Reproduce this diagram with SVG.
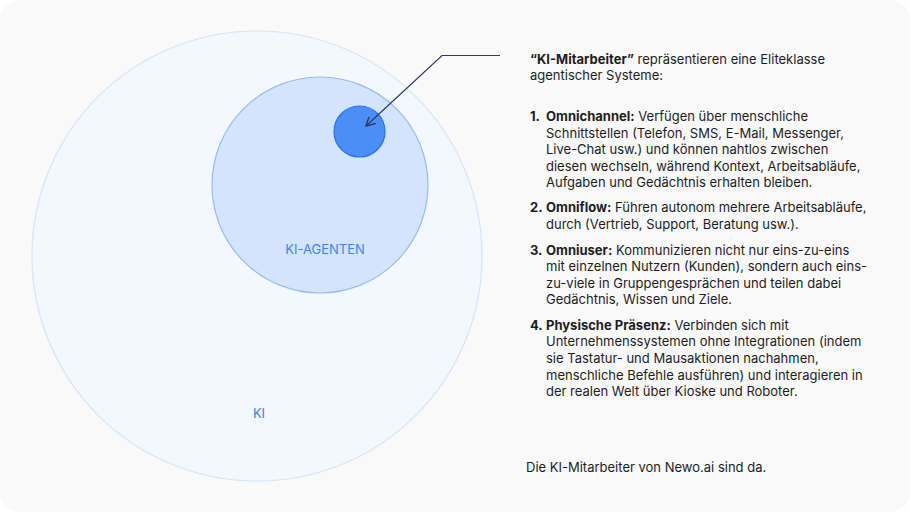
<svg xmlns="http://www.w3.org/2000/svg" width="910" height="512" viewBox="0 0 910 512">
  <defs>
    <style>
      .t { font-family: Inter, "Noto Sans", "Liberation Sans", sans-serif; font-size: 13px; fill: #1d1d1f; }
      .b { font-weight: 700; }
      .lbl { font-family: Inter, "Noto Sans", "Liberation Sans", sans-serif; font-size: 13px; fill: #3d84f0; }
    </style>
    <marker id="arrow" viewBox="0 0 10 10" refX="9" refY="5" markerWidth="10" markerHeight="10" markerUnits="userSpaceOnUse" orient="auto">
      <path d="M0,0 L9,5 L0,10" fill="none" stroke="#2b3a5e" stroke-width="1.4"/>
    </marker>
  </defs>

  <rect x="0" y="0" width="910" height="512" fill="#ffffff"/>
  <rect x="0" y="0" width="910" height="512" rx="20" ry="20" fill="#f9f9f9"/>

  <g id="ki">
    <circle cx="257" cy="256" r="225" fill="#f3f7fe" stroke="#d5e4fb" stroke-width="1.2"/>
    <text class="lbl" x="259" y="418" text-anchor="middle">KI</text>
  </g>

  <g id="ki-agenten">
    <circle cx="320" cy="185" r="108" fill="#d4e4fc" stroke="#94bdf7" stroke-width="1.2"/>
    <text class="lbl" x="325" y="254" text-anchor="middle">KI-AGENTEN</text>
  </g>

  <g id="ki-mitarbeiter">
    <circle cx="359.5" cy="131.5" r="25.5" fill="#4a8ff8" stroke="#2870ee" stroke-width="1.2"/>
  </g>

  <g id="connectors">
    <polyline points="500,55.5 442,55.5 366,126" fill="none" stroke="#2b3a5e" stroke-width="1.2" marker-end="url(#arrow)"/>
  </g>

  <g id="description">
    <text class="t" x="530" y="64"><tspan class="b">“KI-Mitarbeiter”</tspan> repräsentieren eine Eliteklasse</text>
    <text class="t" x="530" y="80">agentischer Systeme:</text>

    <text class="t b" x="530" y="121">1.</text>
    <text class="t" x="546" y="121"><tspan class="b">Omnichannel:</tspan> Verfügen über menschliche</text>
    <text class="t" x="546" y="138">Schnittstellen (Telefon, SMS, E-Mail, Messenger,</text>
    <text class="t" x="546" y="154">Live-Chat usw.) und können nahtlos zwischen</text>
    <text class="t" x="546" y="171">diesen wechseln, während Kontext, Arbeitsabläufe,</text>
    <text class="t" x="546" y="187">Aufgaben und Gedächtnis erhalten bleiben.</text>

    <text class="t b" x="530" y="212">2.</text>
    <text class="t" x="546" y="212"><tspan class="b">Omniflow:</tspan> Führen autonom mehrere Arbeitsabläufe,</text>
    <text class="t" x="546" y="229">durch (Vertrieb, Support, Beratung usw.).</text>

    <text class="t b" x="530" y="255">3.</text>
    <text class="t" x="546" y="255"><tspan class="b">Omniuser:</tspan> Kommunizieren nicht nur eins-zu-eins</text>
    <text class="t" x="546" y="271">mit einzelnen Nutzern (Kunden), sondern auch eins-</text>
    <text class="t" x="546" y="288">zu-viele in Gruppengesprächen und teilen dabei</text>
    <text class="t" x="546" y="304">Gedächtnis, Wissen und Ziele.</text>

    <text class="t b" x="530" y="330">4.</text>
    <text class="t" x="546" y="330"><tspan class="b">Physische Präsenz:</tspan> Verbinden sich mit</text>
    <text class="t" x="546" y="346">Unternehmenssystemen ohne Integrationen (indem</text>
    <text class="t" x="546" y="363">sie Tastatur- und Mausaktionen nachahmen,</text>
    <text class="t" x="546" y="380">menschliche Befehle ausführen) und interagieren in</text>
    <text class="t" x="546" y="396">der realen Welt über Kioske und Roboter.</text>

    <text class="t" x="526" y="472">Die KI-Mitarbeiter von Newo.ai sind da.</text>
  </g>
</svg>
